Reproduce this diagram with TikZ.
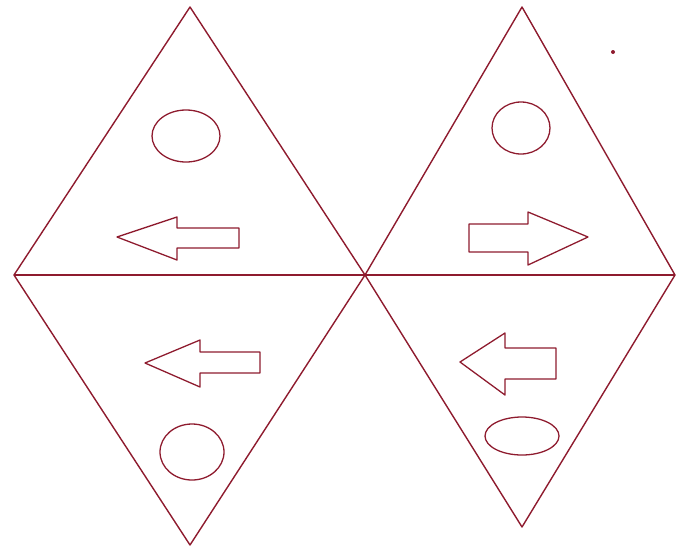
\documentclass[tikz,border=0pt]{standalone}
\usepackage{tikz}
\definecolor{cLine}{HTML}{8E1B2E}

\begin{document}
\begin{tikzpicture}[x=0.03cm,y=-0.03cm,line join=round,
  edge/.style={cLine,line width=1.2pt},
  sign/.style={cLine,line width=1.1pt}]
  \useasboundingbox (0,0) rectangle (679,553);
  % corners of the two diamonds
  \coordinate (lt) at (190,7);   \coordinate (lb) at (190,545);
  \coordinate (ll) at (14,275);  \coordinate (mid) at (365,275);
  \coordinate (rt) at (522,7);   \coordinate (rb) at (522,527);
  \coordinate (rr) at (675,275);
  \draw[edge] (ll) -- (lt) -- (mid) -- (lb) -- cycle;
  \draw[edge] (mid) -- (rt) -- (rr) -- (rb) -- cycle;
  \draw[cLine,line width=1.6pt] (ll) -- (rr);
  % upper left
  \draw[sign] (186,136) ellipse [x radius=34,y radius=26];
  \draw[sign] (117,237) -- (177,217) -- (177,228) -- (239,228) -- (239,248) -- (177,248) -- (177,260) -- cycle;
  % upper right
  \draw[sign] (521,128) ellipse [x radius=29,y radius=26];
  \draw[sign] (588,237) -- (528,212) -- (528,224) -- (469,224) -- (469,252) -- (528,252) -- (528,265) -- cycle;
  \fill[cLine] (613,52) circle [radius=2];
  % lower left
  \draw[sign] (145,363) -- (200,340) -- (200,352) -- (260,352) -- (260,373) -- (200,373) -- (200,387) -- cycle;
  \draw[sign] (192,452) ellipse [x radius=32,y radius=28];
  % lower right
  \draw[sign] (460,362) -- (505,333) -- (505,348) -- (556,348) -- (556,379) -- (505,379) -- (505,395) -- cycle;
  \draw[sign] (522,436) ellipse [x radius=37,y radius=19];
\end{tikzpicture}
\end{document}
